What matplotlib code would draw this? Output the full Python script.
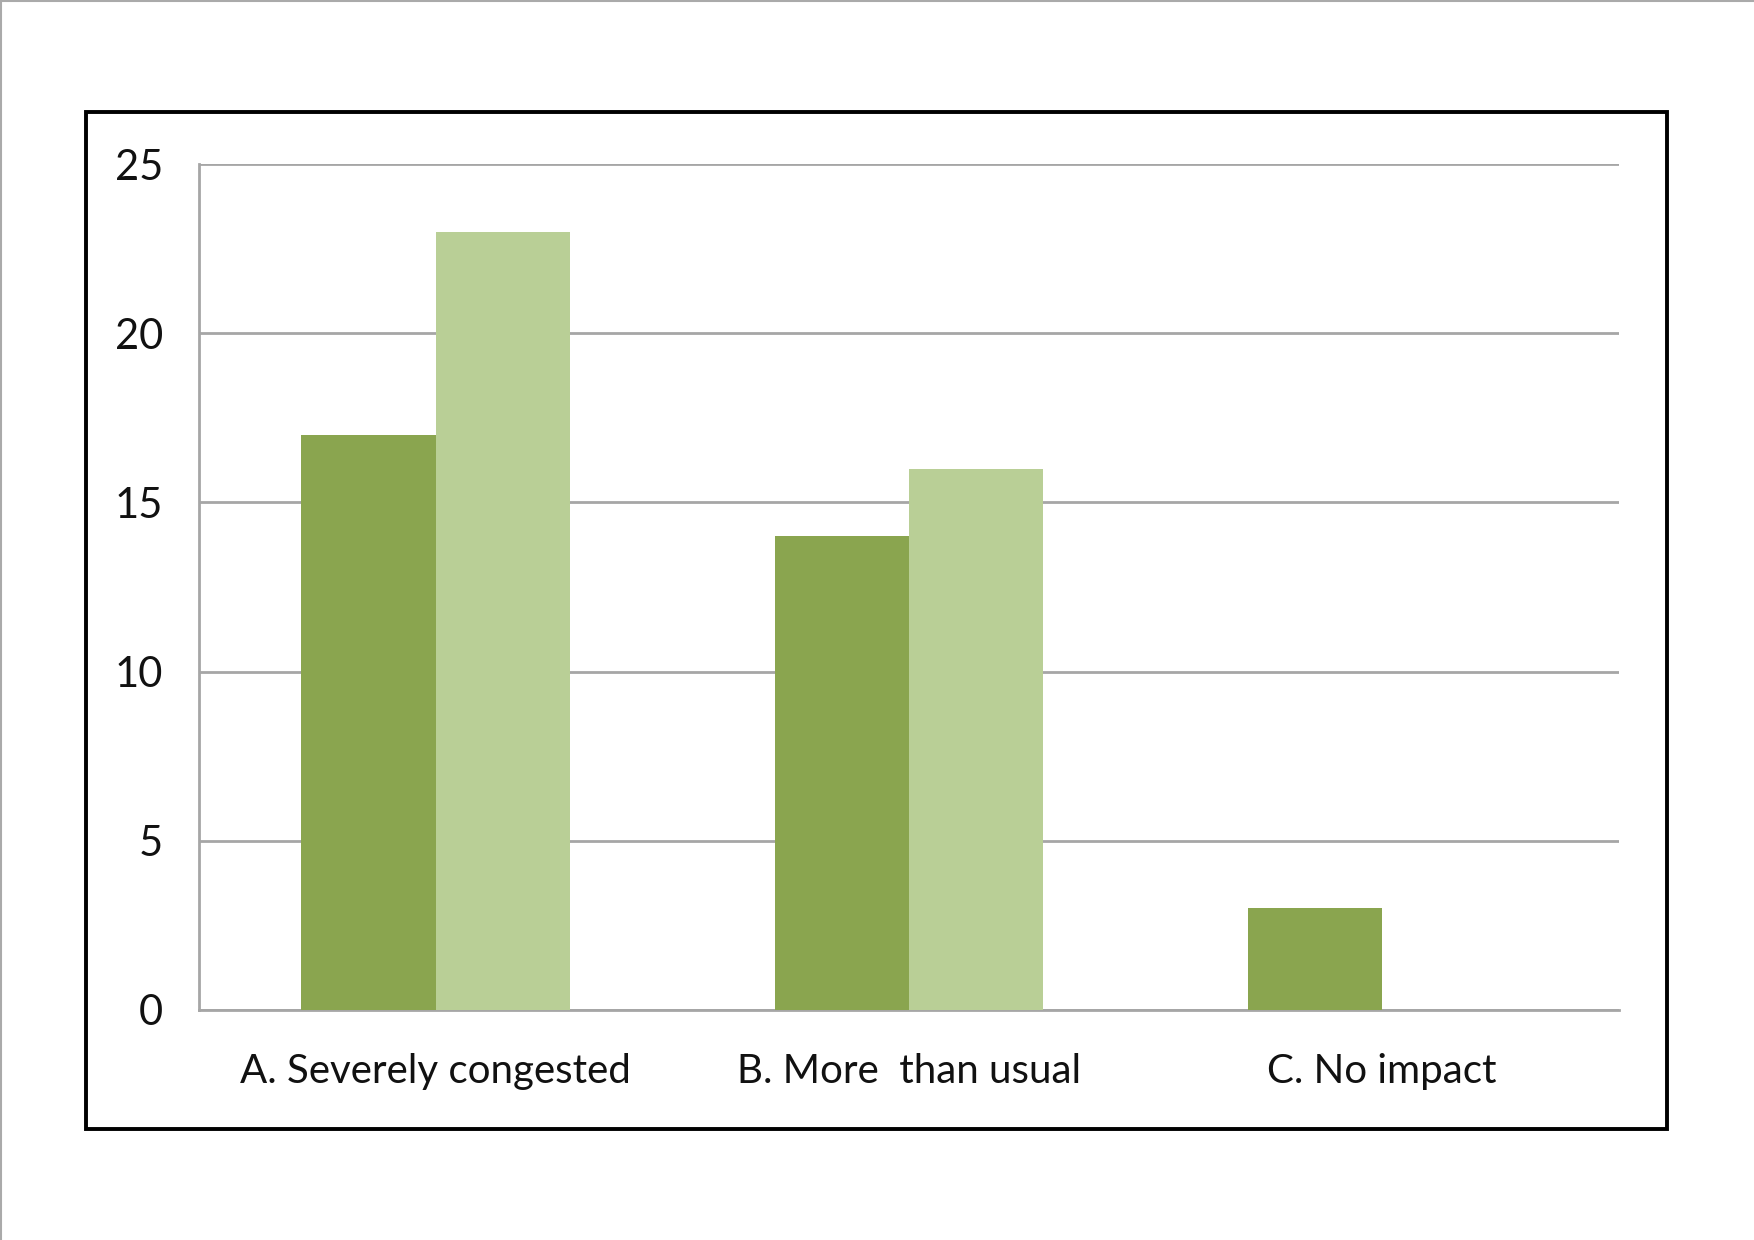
import matplotlib
matplotlib.use("Agg")
import matplotlib.pyplot as plt
from matplotlib.patches import Rectangle
from matplotlib.lines import Line2D
import numpy as np

categories = ["A. Severely congested", "B. More  than usual", "C. No impact"]
series1 = [17, 14, 3]
series2 = [23, 16, 0]
yticks = [0, 5, 10, 15, 20, 25]

dark = "#8AA54F"
light = "#B9CF96"
grid = "#A6A6A6"

plt.rcParams['font.family'] = ['Lato', 'DejaVu Sans']

fig = plt.figure(figsize=(17.54, 12.40), dpi=100)
W, H = 1568.0, 1109.0
x0, x1 = 178 / W, 1447 / W
y0, y1 = 1 - 903 / H, 1 - 147 / H
ax = fig.add_axes([x0, y0, x1 - x0, y1 - y0])

x = np.arange(len(categories))
bw = 120 / 423
ax.bar(x - bw / 2, series1, width=bw, color=dark, zorder=3)
ax.bar(x + bw / 2, series2, width=bw, color=light, zorder=3)

ax.set_xlim(-0.5, len(categories) - 0.5)
ax.set_ylim(0, 25)
ax.set_yticks(yticks)
ax.set_yticklabels([str(v) for v in yticks])
ax.set_xticks(x)
ax.set_xticklabels(categories)
ax.yaxis.grid(True, color=grid, linewidth=2, zorder=0)
ax.set_axisbelow(True)
for s in ["top", "right"]:
    ax.spines[s].set_visible(False)
for s in ["left", "bottom"]:
    ax.spines[s].set_color(grid)
    ax.spines[s].set_linewidth(2)
ax.tick_params(axis="both", length=0, colors="#111111")
ax.tick_params(axis="y", pad=26, labelsize=30)
ax.tick_params(axis="x", pad=31, labelsize=29)

# black outer frame of chart
fl, fr = 77 / W, 1490 / W
fb, ft = 1 - 1010 / H, 1 - 100 / H
fig.add_artist(Rectangle((fl, fb), fr - fl, ft - fb, transform=fig.transFigure,
                         fill=False, edgecolor="black", linewidth=2.8))
# page border lines (top and left)
fig.add_artist(Line2D([0, 1], [0.9993, 0.9993], transform=fig.transFigure,
                      color="#AAAAAA", linewidth=1.5))
fig.add_artist(Line2D([0.0006, 0.0006], [0, 1], transform=fig.transFigure,
                      color="#AAAAAA", linewidth=1.5))

fig.savefig("out.png", dpi=100, facecolor="white")
